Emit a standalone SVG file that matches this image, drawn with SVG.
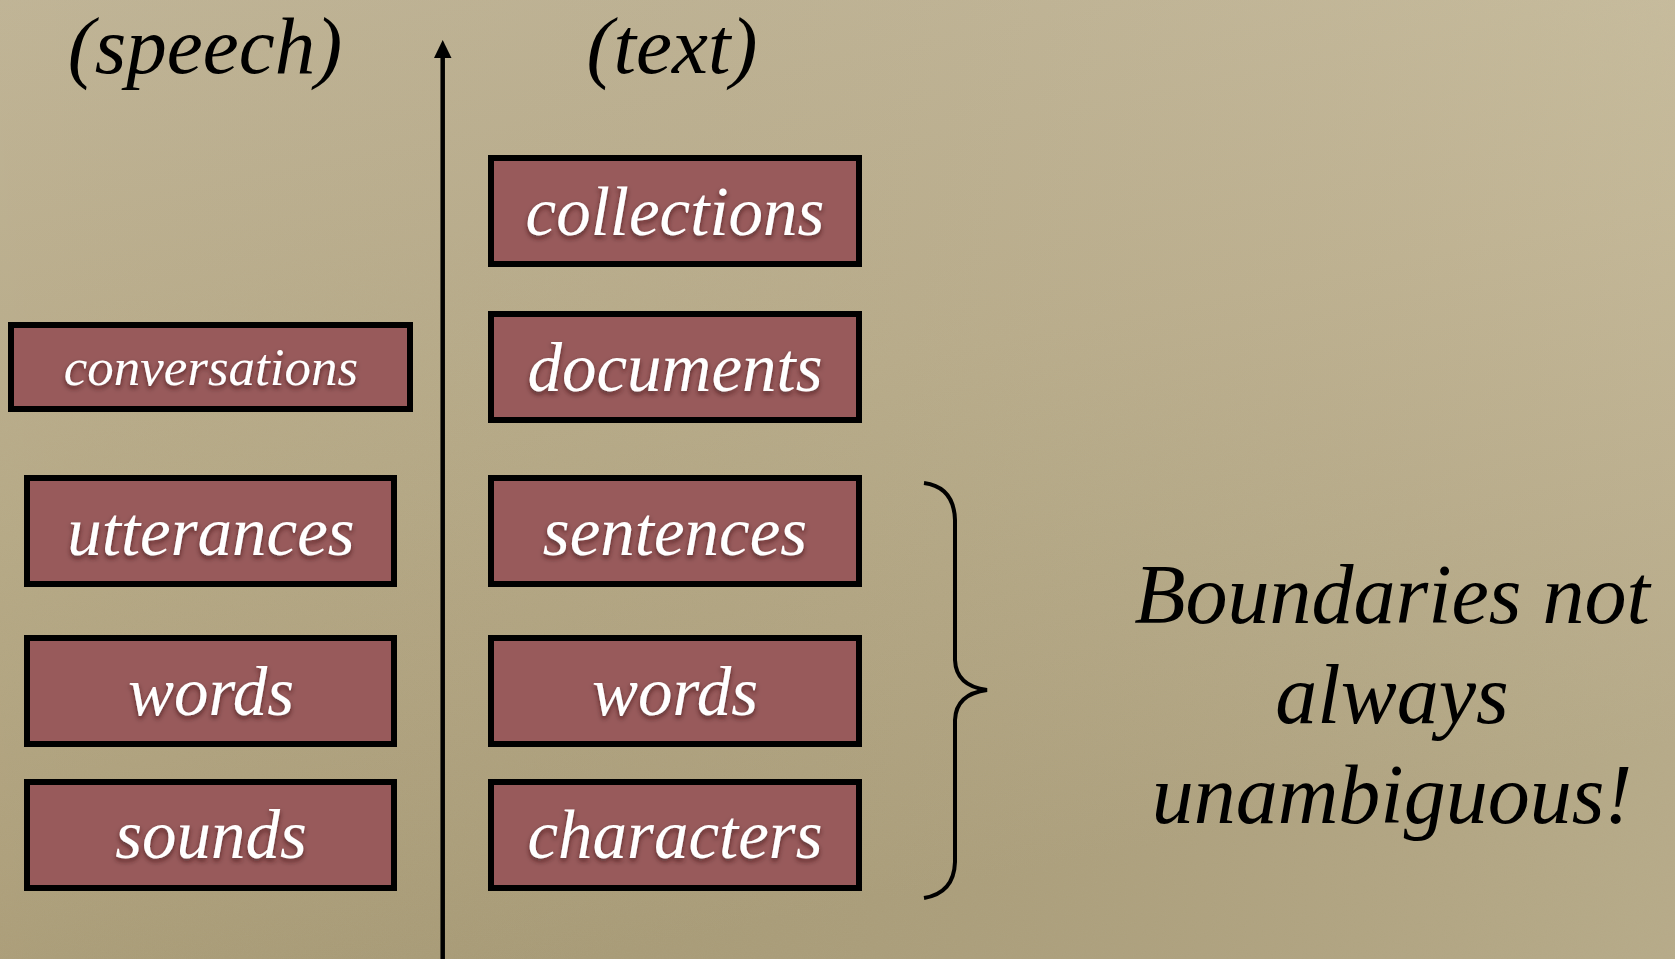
<svg xmlns="http://www.w3.org/2000/svg" width="1675" height="959" viewBox="0 0 1675 959">
  <defs>
    <linearGradient id="bg" x1="0" y1="0" x2="0.35" y2="1">
      <stop offset="0" stop-color="#c6ba9a"/>
      <stop offset="0.5" stop-color="#bcae89"/>
      <stop offset="1" stop-color="#ad9f78"/>
    </linearGradient>
    <linearGradient id="bg2" x1="0" y1="0" x2="1" y2="0">
      <stop offset="0" stop-color="#000" stop-opacity="0.03"/>
      <stop offset="1" stop-color="#fff" stop-opacity="0.12"/>
    </linearGradient>
    <filter id="noise" x="0" y="0" width="100%" height="100%">
      <feTurbulence type="fractalNoise" baseFrequency="0.9" numOctaves="2" seed="3" result="n"/>
      <feColorMatrix in="n" type="matrix" values="0 0 0 0 0.5  0 0 0 0 0.45  0 0 0 0 0.35  0 0 0 0.12 0"/>
    </filter>
    <filter id="tshadow" x="-10%" y="-20%" width="120%" height="150%">
      <feDropShadow dx="0" dy="3" stdDeviation="2.5" flood-color="#2a1010" flood-opacity="0.6"/>
    </filter>
    <style>
      .box { fill: #985a5b; stroke: #000; stroke-width: 6; }
      .lbl { font-family: "Liberation Serif", "Times New Roman", serif; font-style: italic; fill: #fff; text-anchor: middle; font-size: 69px; filter: url(#tshadow); }
      .small { font-size: 53px; }
      .hdr { font-family: "Liberation Serif", "Times New Roman", serif; font-style: italic; fill: #000; text-anchor: middle; font-size: 84px; }
      .top { font-size: 81px; }
    </style>
  </defs>

  <rect x="0" y="0" width="1675" height="959" fill="url(#bg)"/>
  <rect x="0" y="0" width="1675" height="959" fill="url(#bg2)"/>
  <rect x="0" y="0" width="1675" height="959" filter="url(#noise)"/>

  <g id="headers">
    <text class="hdr top" x="205" y="73">(speech)</text>
    <text class="hdr top" x="672" y="73">(text)</text>
  </g>

  <g id="connectors">
    <line x1="442.7" y1="959" x2="442.7" y2="56" stroke="#000" stroke-width="4.5"/>
    <path d="M442.7,40 L434,58 L451.5,58 Z" fill="#000"/>
    <path d="M924,483 Q954,487 955,520 L955,660 Q956,686 987,690 Q956,694 955,720 L955,862 Q954,893 924,898" fill="none" stroke="#000" stroke-width="4"/>
  </g>

  <g id="node-collections">
    <rect class="box" x="491" y="158" width="368" height="106"/>
    <text class="lbl" x="675" y="235">collections</text>
  </g>
  <g id="node-conversations">
    <rect class="box" x="11" y="325" width="399" height="84"/>
    <text class="lbl small" x="211" y="385">conversations</text>
  </g>
  <g id="node-documents">
    <rect class="box" x="491" y="314" width="368" height="106"/>
    <text class="lbl" x="675" y="391">documents</text>
  </g>
  <g id="node-utterances">
    <rect class="box" x="27" y="478" width="367" height="106"/>
    <text class="lbl" x="211" y="555">utterances</text>
  </g>
  <g id="node-sentences">
    <rect class="box" x="491" y="478" width="368" height="106"/>
    <text class="lbl" x="675" y="555">sentences</text>
  </g>
  <g id="node-words-speech">
    <rect class="box" x="27" y="638" width="367" height="106"/>
    <text class="lbl" x="211" y="715">words</text>
  </g>
  <g id="node-words-text">
    <rect class="box" x="491" y="638" width="368" height="106"/>
    <text class="lbl" x="675" y="715">words</text>
  </g>
  <g id="node-sounds">
    <rect class="box" x="27" y="782" width="367" height="106"/>
    <text class="lbl" x="211" y="858">sounds</text>
  </g>
  <g id="node-characters">
    <rect class="box" x="491" y="782" width="368" height="106"/>
    <text class="lbl" x="675" y="858">characters</text>
  </g>

  <g id="note">
    <text class="hdr" x="1392" y="623">Boundaries not</text>
    <text class="hdr" x="1392" y="723">always</text>
    <text class="hdr" x="1392" y="823">unambiguous!</text>
  </g>
</svg>
